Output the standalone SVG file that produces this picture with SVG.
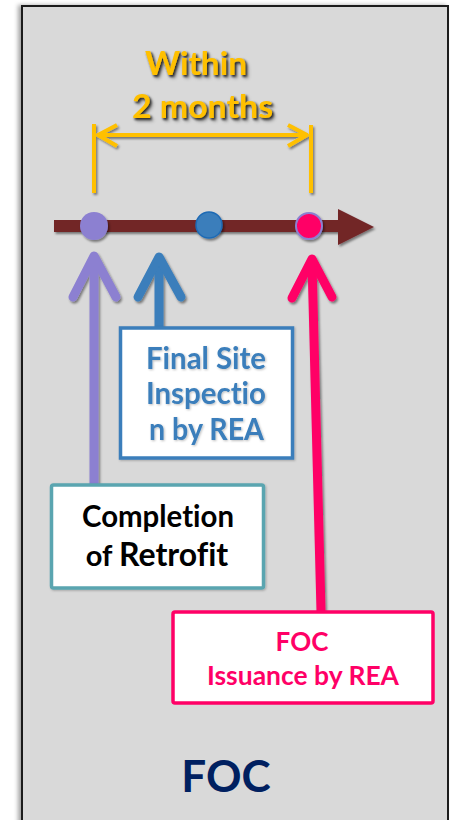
<svg xmlns="http://www.w3.org/2000/svg" width="450" height="820" viewBox="0 0 450 820">
  <defs>
    <filter id="sh" x="-20%" y="-20%" width="140%" height="140%">
      <feDropShadow dx="1.5" dy="2" stdDeviation="1.2" flood-color="#000" flood-opacity="0.45"/>
    </filter>
    <filter id="txtsh" x="-20%" y="-20%" width="140%" height="140%">
      <feDropShadow dx="1.5" dy="1.5" stdDeviation="0.8" flood-color="#000" flood-opacity="0.7"/>
    </filter>
    <filter id="soft" x="-20%" y="-20%" width="140%" height="140%">
      <feDropShadow dx="1" dy="1" stdDeviation="0.8" flood-color="#000" flood-opacity="0.25"/>
    </filter>
    <filter id="panelsh" x="-5%" y="-5%" width="110%" height="110%">
      <feDropShadow dx="-3" dy="0" stdDeviation="2" flood-color="#000" flood-opacity="0.35"/>
    </filter>
  </defs>
  <style>
    text { font-family: Lato, "Open Sans", "Liberation Sans", sans-serif; font-weight: bold; text-anchor: middle; font-variant-ligatures: none; }
    .box { fill: #ffffff; stroke-width: 3.5; }
    .yel { stroke: #FFC000; stroke-width: 4; fill: none; stroke-linecap: butt; }
    .arr { fill: none; stroke-width: 9; stroke-linecap: round; stroke-linejoin: round; }
  </style>

  <rect width="450" height="820" fill="#ffffff"/>
  <g id="panel">
    <rect x="22" y="6" width="426" height="830" fill="#D9D9D9" stroke="#1a1a1a" stroke-width="2" filter="url(#panelsh)"/>
  </g>

  <g id="duration" filter="url(#sh)">
    <line class="yel" x1="94" y1="124" x2="94" y2="193"/>
    <line class="yel" x1="311" y1="125" x2="311" y2="193"/>
    <line class="yel" x1="97" y1="135" x2="308" y2="135"/>
    <polyline class="yel" points="117,125 98,135 117,146" stroke-linecap="round" stroke-linejoin="round"/>
    <polyline class="yel" points="288,125 307,135 288,146" stroke-linecap="round" stroke-linejoin="round"/>
    <text x="196" y="75" font-size="33" fill="#FFC000" filter="url(#txtsh)" textLength="102" lengthAdjust="spacingAndGlyphs">Within</text>
    <text x="202.5" y="118" font-size="33" fill="#FFC000" filter="url(#txtsh)" textLength="141" lengthAdjust="spacingAndGlyphs">2 months</text>
  </g>

  <g id="timeline" filter="url(#sh)">
    <rect x="54" y="220" width="286" height="12" fill="#722527"/>
    <polygon points="338,209 374,227 338,245" fill="#722527"/>
  </g>

  <g id="connectors">
    <g filter="url(#sh)">
      <line class="arr" x1="94" y1="484" x2="94" y2="258" stroke="#8C80D1" stroke-linecap="butt"/>
      <polyline class="arr" points="73,297 94,256 116,297" stroke="#8C80D1"/>
    </g>
    <g filter="url(#sh)">
      <line class="arr" x1="159" y1="327" x2="159" y2="260" stroke="#3A7EBB" stroke-linecap="butt"/>
      <polyline class="arr" points="138,297 159,257 181,297" stroke="#3A7EBB"/>
    </g>
    <g filter="url(#sh)">
      <line class="arr" x1="321" y1="611" x2="312" y2="262" stroke="#FF0066" stroke-linecap="butt"/>
      <polyline class="arr" points="292,298 312,259 332,297" stroke="#FF0066"/>
    </g>
  </g>

  <g id="dot-completion" filter="url(#sh)">
    <circle cx="94" cy="226" r="14" fill="#8C80D1"/>
  </g>
  <g id="dot-inspection" filter="url(#sh)">
    <circle cx="209" cy="225" r="13" fill="#3A7EBB" stroke="#1F6BB5" stroke-width="1.5"/>
  </g>
  <g id="dot-foc" filter="url(#sh)">
    <circle cx="309" cy="226" r="13" fill="#FF0066" stroke="#8C80D1" stroke-width="2"/>
  </g>

  <g id="node-inspection">
    <rect class="box" x="120.5" y="328" width="172" height="130" stroke="#3A7EBB" filter="url(#soft)"/>
    <text x="206" y="369" font-size="30" fill="#3A7EBB" filter="url(#soft)" textLength="120" lengthAdjust="spacingAndGlyphs">Final Site</text>
    <text x="206" y="404" font-size="30" fill="#3A7EBB" filter="url(#soft)" textLength="120" lengthAdjust="spacingAndGlyphs">Inspectio</text>
    <text x="206.5" y="440" font-size="30" fill="#3A7EBB" filter="url(#soft)" textLength="115" lengthAdjust="spacingAndGlyphs">n by REA</text>
  </g>

  <g id="node-completion">
    <rect class="box" x="51.5" y="485" width="212" height="103" rx="2" stroke="#5AA5B0" filter="url(#soft)"/>
    <text x="158" y="527" font-size="29.5" fill="#000" textLength="152" lengthAdjust="spacingAndGlyphs">Completion</text>
    <text x="157" y="566" fill="#000"><tspan font-size="29">of </tspan><tspan font-size="32">Retrofit</tspan></text>
  </g>

  <g id="node-foc">
    <rect class="box" x="173" y="612" width="260" height="91" rx="2" stroke="#FF0066" stroke-width="4"/>
    <text x="302" y="651" font-size="26" fill="#FF0066">FOC</text>
    <text x="303" y="685" font-size="27" fill="#FF0066" textLength="192" lengthAdjust="spacingAndGlyphs">Issuance by REA</text>
  </g>

  <g id="title">
    <text x="226" y="792" font-size="44" fill="#002060">FOC</text>
  </g>
</svg>
